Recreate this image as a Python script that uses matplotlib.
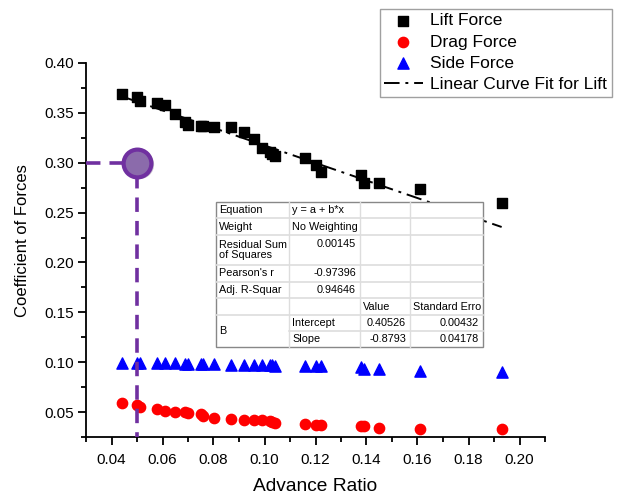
import numpy as np
import matplotlib.pyplot as plt
from matplotlib.patches import Rectangle
from matplotlib.lines import Line2D
from matplotlib.ticker import MultipleLocator

plt.rcParams['font.family'] = ['Liberation Sans', 'DejaVu Sans']

# data
advance_ratio = [0.044, 0.050, 0.051, 0.058, 0.061, 0.065, 0.069, 0.070, 0.075, 0.076,
                 0.080, 0.087, 0.092, 0.096, 0.099, 0.102, 0.103, 0.104, 0.116, 0.120,
                 0.122, 0.138, 0.139, 0.145, 0.161, 0.193]
lift = [0.369, 0.366, 0.362, 0.360, 0.358, 0.349, 0.341, 0.338, 0.337, 0.337,
        0.336, 0.336, 0.331, 0.324, 0.315, 0.311, 0.309, 0.307, 0.305, 0.298,
        0.291, 0.288, 0.280, 0.280, 0.274, 0.260]
drag = [0.059, 0.057, 0.055, 0.053, 0.051, 0.050, 0.050, 0.049, 0.048, 0.046,
        0.044, 0.043, 0.042, 0.042, 0.042, 0.041, 0.040, 0.039, 0.038, 0.037,
        0.037, 0.036, 0.036, 0.034, 0.033, 0.033]
side = [0.099, 0.099, 0.099, 0.099, 0.099, 0.099, 0.0985, 0.0985, 0.0985, 0.098,
        0.098, 0.0975, 0.0975, 0.097, 0.097, 0.097, 0.097, 0.0965, 0.096, 0.096,
        0.096, 0.0955, 0.093, 0.093, 0.091, 0.090]

# fit results (from the table in the chart)
intercept = 0.40526
slope = -0.8793
table_rows = [
    ["Equation", "y = a + b*x", "", ""],
    ["Weight", "No Weighting", "", ""],
    ["Residual Sum\nof Squares", "0.00145", "", ""],
    ["Pearson's r", "-0.97396", "", ""],
    ["Adj. R-Squar", "0.94646", "", ""],
    ["", "", "Value", "Standard Erro"],
    ["B", "Intercept", "0.40526", "0.00432"],
    ["", "Slope", "-0.8793", "0.04178"],
]

# highlighted point
mark_x, mark_y = 0.05, 0.30

W, H = 624, 499
fig = plt.figure(figsize=(W / 100, H / 100), dpi=100)
ax = fig.add_axes([86 / W, 1 - 437 / H, (545 - 86) / W, (437 - 63) / H])


def fp(x, y):
    # pixel -> figure fraction
    return x / W, 1 - y / H


# fit line
fx = np.array([advance_ratio[0], advance_ratio[-1]])
ax.plot(fx, intercept + slope * fx, color='black', lw=1.4,
        dashes=(8, 3, 1.5, 3), zorder=2, label='Linear Curve Fit for Lift')

ax.scatter(advance_ratio, lift, marker='s', s=48, color='black', zorder=3,
           label='Lift Force', clip_on=False)
ax.scatter(advance_ratio, drag, marker='o', s=55, color='#ff0000', zorder=3,
           label='Drag Force')
ax.scatter(advance_ratio, side, marker='^', s=65, color='#0000ff', zorder=3,
           label='Side Force')

# purple guide lines
purple = '#7030a0'
ax.plot([0.03, mark_x - 0.004], [mark_y, mark_y], color=purple, lw=2.6,
        dashes=(4, 2.5), zorder=4, clip_on=False)
ax.plot([mark_x, mark_x], [mark_y - 0.011, 0.025], color=purple, lw=2.6,
        dashes=(4, 2.5), zorder=4, clip_on=False)
ax.plot([mark_x + 0.0006], [mark_y - 0.0015], marker='o', ms=21, color='#b0a8b8',
        mec='none', zorder=4, alpha=0.7)
ax.plot([mark_x], [mark_y], marker='o', ms=20, mfc='#8b6bab', mec=purple, mew=3,
        zorder=5)

ax.set_xlim(0.03, 0.21)
ax.set_ylim(0.025, 0.40)
ax.xaxis.set_minor_locator(MultipleLocator(0.01))
ax.yaxis.set_minor_locator(MultipleLocator(0.025))
ax.set_xticks(np.arange(0.04, 0.201, 0.02))
ax.set_yticks(np.arange(0.05, 0.401, 0.05))
ax.xaxis.set_major_formatter(plt.FormatStrFormatter('%.2f'))
ax.yaxis.set_major_formatter(plt.FormatStrFormatter('%.2f'))
ax.tick_params(which='major', direction='out', length=5.5, width=1.3, labelsize=11)
ax.tick_params(axis='y', which='major', pad=3)
ax.tick_params(axis='x', which='major', pad=6)
ax.tick_params(which='minor', direction='out', length=3.5, width=1.3)
for s in ['top', 'right']:
    ax.spines[s].set_visible(False)
for s in ['left', 'bottom']:
    ax.spines[s].set_linewidth(1.3)
ax.patch.set_alpha(0)

ax.set_xlabel('Advance Ratio', fontsize=13.8, labelpad=8)
fig.text(23 / W, 1 - 241 / H, 'Coefficient of Forces', fontsize=12,
         rotation=90, ha='center', va='center')

# legend
h, l = ax.get_legend_handles_labels()
order = [1, 2, 3, 0]
leg = fig.legend([h[i] for i in order], [l[i] for i in order],
                 loc='upper left', bbox_to_anchor=fp(380, 9), fontsize=12.5,
                 frameon=True, fancybox=False, edgecolor='#888888',
                 borderpad=0.25, labelspacing=0.35, handlelength=2.2,
                 handletextpad=0.45, borderaxespad=0)
leg.get_frame().set_linewidth(1.0)

# fit table (drawn in pixel positions)
col_x = [216, 289, 360, 410, 483]
row_y = [202, 218, 235, 265, 282, 298, 315, 331, 347]
fig.patches.append(Rectangle(fp(col_x[0], row_y[-1]), (col_x[-1] - col_x[0]) / W,
                             (row_y[-1] - row_y[0]) / H, transform=fig.transFigure,
                             facecolor='white', edgecolor='#888888', lw=1.0, zorder=10))
for yy in row_y[1:-1]:
    x0 = col_x[1] if yy == 331 else col_x[0]
    fig.add_artist(Line2D([x0 / W, col_x[-1] / W], [1 - yy / H] * 2, color='#dddddd',
                          lw=1.2, zorder=11))
for xx in col_x[1:-1]:
    fig.add_artist(Line2D([xx / W] * 2, [1 - row_y[0] / H, 1 - row_y[-1] / H],
                          color='#dddddd', lw=1.0, zorder=11))

tfs = 7.8
for r, row in enumerate(table_rows):
    yc = (row_y[r] + row_y[r + 1]) / 2
    for c, txt in enumerate(row):
        if not txt:
            continue
        if c == 0:
            ypos = yc
            if txt == 'B':
                ypos = row_y[r + 1]
            fig.text(*fp(col_x[0] + 3, ypos), txt, fontsize=tfs, va='center',
                     ha='left', zorder=12, linespacing=1.0)
        elif c == 1 and not txt[0].isdigit() and txt[0] != '-':
            fig.text(*fp(col_x[1] + 3, yc if r != 2 else row_y[r] + 9), txt,
                     fontsize=tfs, va='center', ha='left', zorder=12)
        elif c == 1:
            fig.text(*fp(col_x[2] - 4, yc if r != 2 else row_y[r] + 9), txt,
                     fontsize=tfs, va='center', ha='right', zorder=12)
        elif txt in ('Value', 'Standard Erro'):
            fig.text(*fp(col_x[c] + 3, yc), txt, fontsize=tfs, va='center',
                     ha='left', zorder=12)
        else:
            fig.text(*fp(col_x[c + 1] - 4, yc), txt, fontsize=tfs, va='center',
                     ha='right', zorder=12)

fig.savefig('out.png', dpi=100)
